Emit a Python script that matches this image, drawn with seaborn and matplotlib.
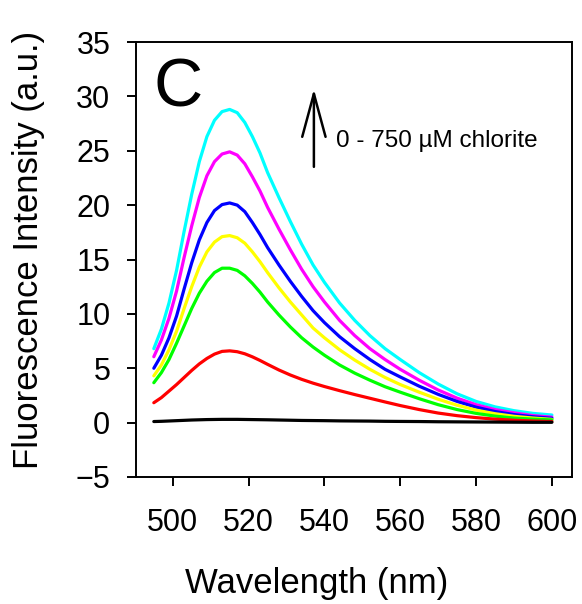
import numpy as np
import pandas as pd
import matplotlib
matplotlib.use("Agg")
import matplotlib.pyplot as plt
import seaborn as sns

wavelength = [495, 497, 499, 501, 503, 505, 507, 509, 511, 513, 515, 517, 519, 521,
              523, 525, 528, 531, 534, 537, 540, 544, 548, 552, 556, 560, 565, 570,
              575, 580, 585, 590, 595, 600]

cyan = [6.8, 8.6, 11.0, 14.0, 17.6, 21.0, 24.0, 26.3, 27.8, 28.6, 28.8, 28.5, 27.6, 26.3,
        24.8, 23.0, 20.7, 18.5, 16.4, 14.5, 12.9, 11.0, 9.4, 8.0, 6.8, 5.8, 4.6, 3.55,
        2.65, 1.95, 1.45, 1.1, 0.85, 0.7]
magenta = [6.06, 7.6, 9.6, 12.1, 15.2, 18.1, 20.7, 22.7, 24.0, 24.7, 24.9, 24.6, 23.8, 22.6,
           21.3, 19.8, 17.8, 15.9, 14.1, 12.5, 11.1, 9.4, 8.0, 6.8, 5.8, 4.9, 3.9, 3.0,
           2.25, 1.65, 1.2, 0.9, 0.65, 0.5]
blue = [5.0, 6.2, 7.8, 9.8, 12.3, 14.7, 16.8, 18.4, 19.5, 20.05, 20.2, 20.0, 19.4, 18.4,
        17.3, 16.1, 14.5, 13.0, 11.6, 10.3, 9.2, 7.9, 6.8, 5.8, 4.9, 4.2, 3.35, 2.6,
        1.95, 1.42, 1.02, 0.74, 0.54, 0.4]
yellow = [4.3, 5.3, 6.7, 8.4, 10.5, 12.5, 14.3, 15.7, 16.6, 17.1, 17.2, 17.0, 16.5, 15.7,
          14.8, 13.8, 12.4, 11.1, 9.9, 8.7, 7.8, 6.7, 5.75, 4.9, 4.15, 3.5, 2.8, 2.15,
          1.6, 1.15, 0.82, 0.58, 0.42, 0.3]
green = [3.67, 4.6, 5.8, 7.3, 8.9, 10.5, 11.9, 13.0, 13.8, 14.2, 14.2, 14.0, 13.5, 12.8,
         12.0, 11.1, 9.9, 8.8, 7.8, 6.95, 6.2, 5.3, 4.55, 3.9, 3.3, 2.8, 2.2, 1.65,
         1.2, 0.85, 0.6, 0.42, 0.32, 0.25]
red = [1.83, 2.3, 2.9, 3.5, 4.15, 4.8, 5.4, 5.9, 6.3, 6.55, 6.6, 6.52, 6.33, 6.05,
       5.72, 5.36, 4.84, 4.38, 3.98, 3.63, 3.32, 2.94, 2.58, 2.24, 1.9, 1.57, 1.2, 0.88,
       0.64, 0.46, 0.32, 0.22, 0.15, 0.1]
black = [0.1, 0.12, 0.15, 0.18, 0.21, 0.24, 0.26, 0.28, 0.29, 0.3, 0.3, 0.3, 0.29, 0.28,
         0.27, 0.26, 0.24, 0.22, 0.2, 0.19, 0.18, 0.16, 0.15, 0.14, 0.12, 0.11, 0.1, 0.08,
         0.07, 0.06, 0.05, 0.04, 0.03, 0.03]

series = {"cyan": cyan, "magenta": magenta, "blue": blue, "yellow": yellow,
          "green": green, "red": red, "black": black}
colors = {"cyan": "#00FFFF", "magenta": "#FF00FF", "blue": "#0000FF",
          "yellow": "#FFFF00", "green": "#00FF00", "red": "#FF0000", "black": "#000000"}

x_ticks = [500, 520, 540, 560, 580, 600]
y_ticks = [-5, 0, 5, 10, 15, 20, 25, 30, 35]

rows = []
for name, vals in series.items():
    for w, v in zip(wavelength, vals):
        rows.append({"Wavelength": w, "Intensity": v, "series": name})
df = pd.DataFrame(rows)

sns.set_style("ticks")
plt.rcParams["font.family"] = ["Liberation Sans", "DejaVu Sans"]
plt.rcParams["text.color"] = "black"
plt.rcParams["axes.labelcolor"] = "black"
plt.rcParams["xtick.color"] = "black"
plt.rcParams["ytick.color"] = "black"

fig = plt.figure(figsize=(5.82, 6.04), dpi=100)
ax = fig.add_axes([136 / 582, 1 - 477 / 604, 436 / 582, 435 / 604])

sns.lineplot(data=df, x="Wavelength", y="Intensity", hue="series",
             hue_order=list(series.keys()), palette=colors, linewidth=2.3,
             errorbar=None, legend=False, ax=ax)

ax.set_xlim(490.3, 605.3)
ax.set_ylim(-5, 35)
ax.set_xticks(x_ticks)
ax.set_yticks(y_ticks)
ax.tick_params(axis="both", direction="out", length=6.5, width=1.4,
               labelsize=22, colors="black")
ax.tick_params(axis="y", pad=12)
ax.tick_params(axis="x", pad=16)
for sp in ax.spines.values():
    sp.set_visible(True)
    sp.set_linewidth(1.4)
    sp.set_color("black")

ax.set_xlabel("Wavelength (nm)", fontsize=25, color="black")
ax.set_ylabel("Fluorescence Intensity (a.u.)", fontsize=25, color="black")
ax.xaxis.set_label_coords(0.415, -0.208)
ax.yaxis.set_label_coords(-0.209, 0.522)

ax.text(0.041, 0.851, "C", transform=ax.transAxes, fontsize=49,
        ha="left", va="baseline", color="black")
ax.annotate("", xy=(0.408, 0.892), xytext=(0.408, 0.713),
            xycoords="axes fraction", textcoords="axes fraction",
            arrowprops=dict(arrowstyle="->,head_length=1.55,head_width=0.42",
                            mutation_scale=20, lw=1.8, color="black",
                            shrinkA=0, shrinkB=0))
ax.text(0.459, 0.759, "0 - 750 \u00b5M chlorite", transform=ax.transAxes,
        fontsize=17.5, ha="left", va="baseline", color="black")

fig.savefig("out.png", dpi=100)
